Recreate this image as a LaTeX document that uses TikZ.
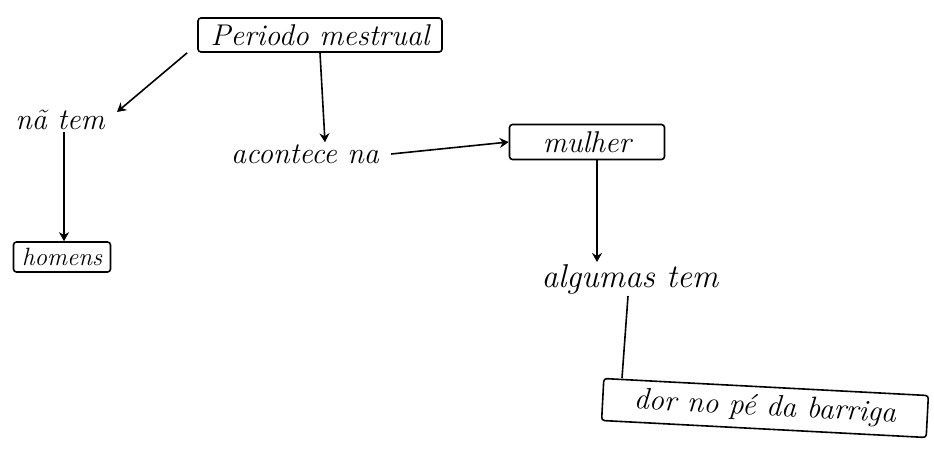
\documentclass[tikz,border=0pt]{standalone}
\usetikzlibrary{arrows.meta}
\begin{document}
\begin{tikzpicture}[x=1pt,y=-1pt,
  hand/.style={font=\fontsize{30}{34}\selectfont\itshape, inner sep=2pt},
  boxed/.style={hand, draw, line width=1.6pt, rounded corners=3pt, inner sep=0pt},
  conn/.style={line width=1.6pt},
  arr/.style={conn, -{Stealth[length=9pt,width=10pt]}}]
\useasboundingbox (0,0) rectangle (934,448);
\node[boxed, minimum width=244, minimum height=34] (per) at (320,35) {Periodo mestrual};
\node[hand] (nao) at (60,120) {nã tem};
\node[boxed, minimum width=97, minimum height=30, font=\fontsize{25}{30}\selectfont\itshape] (hom) at (62,257) {homens};
\node[hand] (acon) at (305,154) {acontece na};
\node[boxed, minimum width=155, minimum height=35] (mul) at (587,142) {mulher};
\node[hand, font=\fontsize{33}{38}\selectfont\itshape] (alg) at (630,279) {algumas tem};
\node[boxed, rotate=-3, minimum width=325, minimum height=42] (dor) at (765,408) {dor no pé da barriga};
\draw[arr] (per.south west) ++(-10,0) coordinate (c1) -- (117,112);
\draw[arr] (per.south) -- (acon.north -| 325,0);
\draw[arr] (nao.south -| 64,0) -- (hom.north -| 64,0);
\draw[arr] (acon.east) ++(10,0) -- (mul.west);
\draw[arr] (mul.south -| 597,0) -- (alg.north -| 597,0);
\draw[conn] (alg.south -| 628,0) -- (622,378);
\end{tikzpicture}
\end{document}
